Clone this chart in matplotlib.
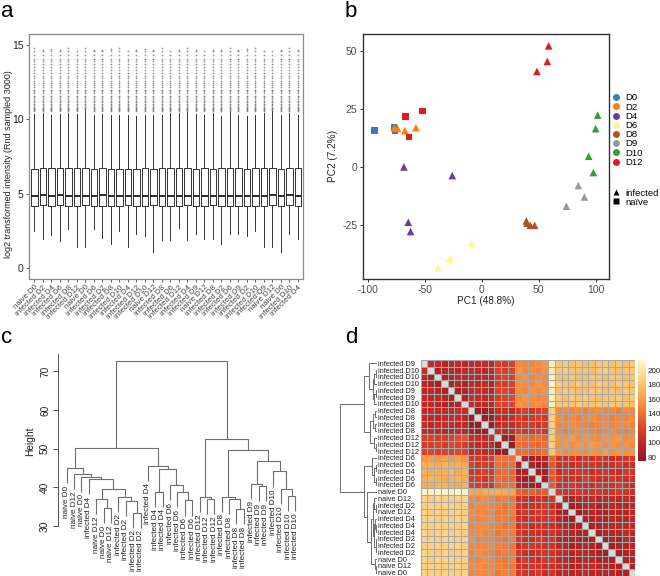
import numpy as np
import matplotlib
matplotlib.use("Agg")
import matplotlib.pyplot as plt
from matplotlib.colors import LinearSegmentedColormap
from matplotlib.lines import Line2D

plt.rcParams["font.family"] = ["Liberation Sans", "DejaVu Sans"]
plt.rcParams["axes.unicode_minus"] = False

# ---------------- panel a data ----------------
box_labels = ["naive D0", "infected D2", "infected D4", "infected D6", "infected D8", "infected D12",
              "naive D0", "infected D6", "infected D2", "infected D8", "infected D10", "infected D4",
              "infected D12", "infected D10", "naive D12", "infected D8", "infected D6", "infected D12",
              "infected D4", "infected D9", "naive D12", "infected D8", "infected D2", "infected D6",
              "infected D9", "infected D2", "infected D10", "infected D9", "naive D12", "naive D0",
              "infected D10", "infected D4"]
box_q1 = [4.2, 4.22, 4.2, 4.22, 4.18, 4.2, 4.22, 4.2, 4.2, 4.18, 4.2, 4.22, 4.2, 4.2, 4.22, 4.15,
          4.2, 4.2, 4.22, 4.18, 4.2, 4.22, 4.2, 4.2, 4.2, 4.15, 4.2, 4.2, 4.22, 4.2, 4.22, 4.2]
box_med = [4.85, 4.9, 4.85, 4.88, 4.85, 4.85, 4.87, 4.85, 4.88, 4.85, 4.85, 4.87, 4.85, 4.85, 4.83, 4.85,
           4.85, 4.87, 4.85, 4.83, 4.85, 4.87, 4.85, 4.87, 4.85, 4.83, 4.85, 4.87, 4.9, 4.82, 4.88, 4.85]
box_q3 = [6.65, 6.72, 6.7, 6.7, 6.72, 6.7, 6.75, 6.68, 6.7, 6.68, 6.66, 6.68, 6.66, 6.7, 6.66, 6.7,
          6.7, 6.73, 6.7, 6.68, 6.72, 6.66, 6.72, 6.7, 6.7, 6.66, 6.7, 6.7, 6.75, 6.68, 6.73, 6.7]
box_whislo = [2.5, 1.95, 2.2, 1.83, 2.6, 1.4, 1.4, 2.6, 2.0, 1.6, 2.5, 1.4, 2.3, 2.15, 1.1, 1.85,
              1.9, 2.7, 1.9, 2.25, 1.95, 1.95, 1.6, 2.3, 2.3, 2.15, 2.5, 1.4, 1.4, 1.1, 2.3, 1.95]
box_whishi = [10.35, 10.4, 10.3, 10.35, 10.45, 10.35, 10.55, 10.3, 10.35, 10.3, 10.3, 10.3, 10.25, 10.3,
              10.3, 10.3, 10.4, 10.45, 10.5, 10.35, 10.3, 10.45, 10.25, 10.5, 10.3, 10.25, 10.3, 10.4,
              10.55, 10.3, 10.45, 10.3]
flier_levels = [10.55, 10.62, 10.7, 10.78, 10.86, 10.95, 11.05, 11.15, 11.25, 11.4, 11.5, 11.6, 11.75,
                11.9, 12.0, 12.15, 12.3, 12.45, 12.6, 12.8, 12.95, 13.1, 13.3, 13.5, 13.7, 13.9, 14.1,
                14.35, 14.6]
flier_top = [14.8, 14.7, 14.75, 14.7, 14.8, 14.6, 14.8, 14.7, 14.7, 14.75, 14.8, 14.6, 14.7, 14.75, 14.7,
             14.8, 14.6, 14.7, 14.8, 14.7, 14.6, 14.7, 14.7, 14.8, 14.7, 14.75, 14.8, 14.6, 14.6, 14.7,
             14.8, 14.7]

# ---------------- panel b data ----------------
pca_day = ["D0", "D0", "D0", "D2", "D2", "D2", "D2", "D12", "D12", "D12", "D12", "D12", "D12",
           "D4", "D4", "D4", "D4", "D6", "D6", "D6", "D6", "D8", "D8", "D8", "D8",
           "D9", "D9", "D9", "D10", "D10", "D10", "D10"]
pca_status = ["naïve", "naïve", "naïve", "infected", "infected", "infected", "infected",
              "naïve", "naïve", "naïve", "infected", "infected", "infected",
              "infected", "infected", "infected", "infected", "infected", "infected", "infected",
              "infected", "infected", "infected", "infected", "infected", "infected", "infected",
              "infected", "infected", "infected", "infected", "infected"]
pc1 = [-93.6, -76.9, -76.0, -76.6, -73.7, -67.3, -57.6, -67.0, -51.5, -63.7, 58.8, 57.6, 48.5,
       -68.1, -25.7, -64.3, -62.3, -8.8, -27.2, -28.4, -38.3, 39.2, 39.8, 42.7, 46.5,
       84.8, 90.1, 74.3, 101.8, 100.0, 93.9, 98.0]
pc2 = [15.8, 17.2, 15.5, 16.8, 16.6, 15.6, 16.9, 21.6, 24.1, 12.9, 52.1, 45.4, 41.1,
       0.0, -3.7, -23.8, -27.8, -32.8, -39.3, -39.7, -43.4, -23.2, -24.2, -25.1, -25.1,
       -8.0, -12.9, -16.9, 22.3, 16.5, 4.6, -2.4]
day_levels = ["D0", "D2", "D4", "D6", "D8", "D9", "D10", "D12"]
day_colors = ["#377EB8", "#FF7F00", "#6A3D9A", "#FFF59A", "#A8552A", "#999999", "#33A02C", "#E31A1C"]
status_levels = ["infected", "naïve"]
status_markers = ["^", "s"]

# ---------------- panel c data ----------------
c_labels = ["naive D0", "naive D12", "naive D0", "infected D4", "naive D12", "naive D0", "naive D12",
            "infected D2", "infected D2", "infected D2", "infected D2", "infected D4", "infected D4",
            "infected D4", "infected D6", "infected D6", "infected D6", "infected D6", "infected D12",
            "infected D12", "infected D12", "infected D8", "infected D8", "infected D8", "infected D8",
            "infected D9", "infected D9", "infected D9", "infected D10", "infected D10", "infected D10",
            "infected D10"]
# merges: negative = leaf (1-based), positive = earlier merge (1-based)
c_merges = [(-10, -11), (-6, -7), (-24, -25), (-9, 1), (-17, -18), (-5, 2), (-20, -21), (-23, 3),
            (-8, 4), (-19, 7), (-22, 8), (-31, -32), (-16, 5), (-13, -14), (6, 9), (-30, 12),
            (-27, -28), (-15, 13), (-26, 17), (-4, 15), (-3, 20), (-2, 21), (-29, 16), (14, 18),
            (-1, 22), (-12, 24), (19, 23), (11, 27), (25, 26), (10, 28), (29, 30)]
c_heights = [33.4, 34.6, 34.4, 36.4, 36.6, 36.9, 36.9, 36.9, 37.6, 37.6, 37.6, 37.7, 38.7, 38.9,
             39.5, 39.5, 40.3, 40.5, 40.9, 42.1, 42.8, 43.5, 44.1, 44.7, 44.9, 45.6, 46.7, 49.6,
             50.1, 52.5, 72.7]
c_hang = 3.9

# ---------------- panel d data ----------------
d_labels = ["infected D9", "infected D10", "infected D10", "infected D10", "infected D9", "infected D9",
            "infected D10", "infected D8", "infected D8", "infected D8", "infected D8", "infected D12",
            "infected D12", "infected D12", "infected D6", "infected D6", "infected D4", "infected D6",
            "infected D6", "naive D0", "naive D12", "infected D2", "naive D12", "infected D4",
            "infected D4", "infected D4", "infected D2", "infected D2", "infected D2", "naive D0",
            "naive D12", "naive D0"]
d_merges = [(-2, -3), (-5, -6), (1, -4), (2, -7), (3, 4), (-1, 5), (-8, -9), (-10, -11), (7, 8),
            (-13, -14), (-12, 10), (9, 11), (6, 12), (-16, -17), (-18, -19), (14, 15), (-15, 16),
            (-22, -23), (-21, 18), (-25, -26), (-24, 20), (-27, -28), (22, -29), (-31, -32), (-30, 24),
            (21, 23), (19, 26), (27, 25), (-20, 28), (17, 29), (13, 30)]
d_heights = [4, 4, 7, 8, 12, 22, 5, 5, 10, 4, 8, 20, 36, 4, 3, 7, 14, 4, 7, 3, 5, 2, 4, 4, 6, 9, 12,
             15, 28, 36, 100]
N = np.nan
dist_rows = [
    [N, 104, 100, 96, 98, 102, 100, 100, 102, 104, 100, 116, 114, 118, 152, 150, 148, 152, 156, 208, 180, 182, 178, 180, 176, 178, 180, 182, 178, 180, 176, 182],
    [106, N, 92, 96, 100, 98, 102, 104, 100, 98, 102, 118, 116, 120, 156, 150, 152, 150, 154, 206, 182, 184, 180, 178, 180, 176, 182, 184, 180, 178, 180, 184],
    [98, 90, N, 92, 96, 100, 98, 100, 98, 102, 100, 114, 118, 116, 150, 154, 148, 152, 150, 208, 180, 178, 182, 176, 178, 180, 180, 176, 182, 180, 178, 180],
    [96, 94, 90, N, 94, 96, 92, 102, 100, 104, 98, 116, 114, 118, 154, 152, 150, 156, 152, 210, 184, 180, 178, 182, 180, 176, 184, 180, 178, 182, 180, 178],
    [98, 100, 96, 92, N, 90, 94, 100, 104, 102, 98, 118, 120, 116, 152, 150, 154, 150, 156, 206, 178, 182, 180, 176, 178, 182, 180, 178, 180, 176, 182, 180],
    [102, 98, 100, 96, 90, N, 92, 106, 102, 100, 104, 114, 118, 120, 150, 156, 152, 148, 152, 208, 180, 176, 182, 180, 184, 178, 176, 182, 180, 184, 178, 182],
    [100, 102, 98, 94, 94, 92, N, 104, 100, 102, 100, 120, 116, 118, 156, 152, 150, 154, 150, 210, 182, 180, 178, 184, 180, 180, 182, 178, 184, 180, 180, 178],
    [102, 104, 100, 102, 100, 106, 104, N, 84, 86, 90, 104, 106, 100, 112, 116, 110, 114, 118, 186, 150, 152, 148, 150, 146, 150, 152, 148, 150, 146, 152, 150],
    [102, 100, 98, 100, 104, 102, 100, 84, N, 82, 86, 102, 100, 106, 114, 110, 112, 116, 112, 184, 152, 148, 150, 146, 150, 152, 148, 150, 146, 150, 148, 152],
    [104, 98, 102, 104, 102, 100, 102, 86, 82, N, 84, 100, 104, 102, 110, 114, 116, 110, 114, 186, 148, 150, 152, 150, 148, 146, 150, 152, 148, 150, 150, 146],
    [100, 102, 100, 98, 98, 104, 100, 90, 86, 84, N, 106, 102, 104, 116, 112, 114, 118, 110, 184, 150, 146, 150, 152, 150, 148, 146, 150, 152, 148, 146, 150],
    [116, 118, 114, 116, 118, 124, 126, 104, 102, 100, 106, N, 86, 84, 142, 138, 136, 140, 134, 184, 156, 154, 158, 152, 156, 154, 152, 156, 154, 158, 152, 154],
    [114, 116, 118, 114, 120, 118, 116, 106, 100, 104, 102, 86, N, 82, 140, 136, 138, 134, 138, 186, 154, 156, 152, 156, 154, 158, 156, 152, 156, 154, 156, 152],
    [118, 120, 116, 118, 116, 120, 118, 100, 106, 102, 104, 84, 82, N, 138, 140, 134, 136, 140, 184, 158, 152, 154, 154, 152, 156, 154, 158, 152, 156, 154, 156],
    [158, 160, 156, 162, 158, 160, 156, 112, 114, 110, 116, 142, 140, 138, N, 90, 88, 92, 94, 132, 110, 108, 112, 106, 110, 108, 112, 110, 106, 108, 110, 112],
    [168, 170, 166, 172, 168, 170, 166, 116, 110, 114, 112, 138, 136, 140, 90, N, 92, 86, 90, 128, 108, 110, 106, 110, 108, 112, 108, 106, 110, 112, 108, 106],
    [170, 166, 168, 170, 172, 168, 170, 110, 112, 116, 114, 136, 138, 134, 88, 92, N, 90, 88, 130, 106, 112, 108, 112, 110, 106, 110, 112, 108, 106, 112, 110],
    [168, 172, 170, 166, 170, 172, 168, 114, 116, 110, 118, 140, 134, 136, 92, 86, 90, N, 86, 128, 112, 106, 110, 108, 112, 110, 106, 108, 112, 110, 106, 108],
    [166, 168, 172, 170, 168, 166, 170, 118, 112, 114, 110, 134, 138, 140, 94, 90, 88, 86, N, 130, 108, 110, 112, 110, 106, 108, 112, 110, 108, 112, 110, 106],
    [212, 210, 214, 212, 210, 212, 214, 166, 164, 168, 166, 168, 166, 164, 132, 128, 130, 128, 130, N, 112, 108, 110, 112, 108, 110, 112, 108, 110, 112, 110, 108],
    [188, 186, 190, 188, 186, 188, 190, 150, 148, 152, 150, 144, 146, 142, 108, 110, 106, 110, 108, 112, N, 96, 94, 98, 100, 102, 98, 100, 104, 100, 102, 98],
    [186, 188, 186, 190, 188, 186, 188, 148, 152, 150, 148, 146, 142, 144, 110, 106, 110, 108, 112, 108, 96, N, 88, 90, 96, 98, 94, 96, 100, 98, 96, 100],
    [190, 186, 188, 186, 190, 188, 186, 152, 150, 148, 150, 142, 144, 146, 106, 110, 108, 112, 110, 110, 94, 88, N, 86, 94, 96, 92, 90, 98, 96, 94, 98],
    [188, 190, 186, 188, 186, 190, 188, 150, 148, 150, 152, 144, 146, 142, 110, 108, 112, 106, 110, 112, 98, 90, 86, N, 92, 94, 96, 94, 100, 98, 96, 100],
    [186, 188, 190, 186, 188, 186, 190, 148, 150, 152, 148, 146, 142, 144, 108, 112, 106, 110, 108, 108, 100, 96, 94, 92, N, 90, 92, 96, 98, 100, 98, 102],
    [190, 186, 188, 190, 186, 188, 186, 150, 152, 148, 150, 142, 146, 144, 112, 108, 110, 108, 106, 110, 102, 98, 96, 94, 90, N, 90, 94, 96, 98, 100, 98],
    [188, 188, 186, 188, 190, 186, 188, 152, 148, 150, 150, 144, 142, 146, 110, 106, 108, 112, 110, 112, 98, 94, 92, 96, 92, 90, N, 88, 92, 94, 96, 98],
    [186, 190, 188, 186, 188, 190, 186, 150, 150, 148, 152, 146, 144, 142, 106, 110, 112, 110, 108, 108, 100, 96, 90, 94, 96, 94, 88, N, 86, 92, 94, 96],
    [190, 188, 186, 190, 186, 188, 190, 148, 152, 150, 148, 142, 146, 144, 112, 108, 106, 108, 110, 110, 104, 100, 98, 100, 98, 96, 92, 86, N, 90, 94, 96],
    [188, 186, 190, 188, 190, 186, 188, 150, 148, 152, 150, 144, 142, 146, 108, 112, 110, 106, 112, 112, 100, 98, 96, 98, 100, 98, 94, 92, 90, N, 92, 94],
    [186, 190, 188, 186, 188, 190, 186, 152, 150, 148, 150, 146, 144, 142, 110, 108, 112, 110, 108, 108, 102, 96, 94, 96, 98, 100, 96, 94, 94, 92, N, 90],
    [190, 188, 186, 190, 186, 188, 190, 148, 150, 150, 152, 142, 146, 144, 112, 110, 108, 112, 106, 110, 98, 100, 98, 100, 102, 98, 98, 96, 96, 94, 90, N],
]
hm_colors = ["#8A1A1E", "#AE2124", "#CB2D26", "#E0482A", "#EE6A31", "#F58D40", "#F9AD55",
             "#FCC977", "#FEE2A0", "#FFF5CC"]
hm_vmin, hm_vmax = 75, 214
hm_ticks = [80, 100, 120, 140, 160, 180, 200]

# ---------------- layout helpers ----------------
W, H = 660, 576


def rect(l, t, r, b):
    return [l / W, 1 - b / H, (r - l) / W, (b - t) / H]


def dendro_segments(merges, heights, leaf_pos, leaf_height):
    nodes = {}
    segs = []
    for j, ((a, b), h) in enumerate(zip(merges, heights), start=1):
        pts = []
        for ch in (a, b):
            if ch < 0:
                pts.append((leaf_pos[-ch - 1], leaf_height(h)))
            else:
                pts.append(nodes[ch])
        (x1, y1), (x2, y2) = pts
        segs.append(([x1, x1, x2, x2], [y1, h, h, y2]))
        nodes[j] = ((x1 + x2) / 2.0, h)
    return segs


fig = plt.figure(figsize=(6.6, 5.76), dpi=100)
txt = "#222222"

# ================= panel a =================
axa = fig.add_axes(rect(29.3, 34, 303, 279))
stats = []
for i in range(len(box_labels)):
    fl = [v for v in flier_levels if box_whishi[i] < v < flier_top[i]] + [flier_top[i]]
    stats.append(dict(med=box_med[i], q1=box_q1[i], q3=box_q3[i], whislo=box_whislo[i],
                      whishi=box_whishi[i], fliers=fl))
pos = np.arange(1, len(box_labels) + 1)
axa.bxp(stats, positions=pos, widths=0.75, showcaps=False, patch_artist=False,
        boxprops=dict(color="#333333", lw=0.7),
        whiskerprops=dict(color="#333333", lw=0.7),
        medianprops=dict(color="#1a1a1a", lw=1.3),
        flierprops=dict(marker="o", ms=1.3, mfc="#444444", mec="none", alpha=0.55))
axa.set_xlim(0.4, len(box_labels) + 0.6)
axa.set_ylim(-0.75, 15.75)
axa.set_yticks([0, 5, 10, 15])
axa.set_xticks(pos)
axa.set_xticklabels(box_labels, rotation=45, ha="right", rotation_mode="anchor", fontsize=5.7, color=txt)
axa.tick_params(axis="y", labelsize=7.5, length=2.5, width=0.6, pad=1.5, colors="#444444", labelcolor=txt)
axa.tick_params(axis="x", length=2.5, width=0.6, pad=1, colors="#444444")
for s in axa.spines.values():
    s.set_color("#8a8a8a")
    s.set_linewidth(0.9)
axa.set_ylabel("log2 transformed intensity (Rnd sampled 3000)", fontsize=6.5, color=txt)
axa.yaxis.set_label_coords(-0.06, 0.47)

# ================= panel b =================
axb = fig.add_axes(rect(363, 34, 609, 279))
for i in range(len(pc1)):
    c = day_colors[day_levels.index(pca_day[i])]
    m = status_markers[status_levels.index(pca_status[i])]
    axb.scatter(pc1[i], pc2[i], marker=m, s=30 if m == "^" else 24, color=c, edgecolors="none", zorder=3)
axb.set_xlim(-104, 111.7)
axb.set_ylim(-48.2, 57.2)
axb.set_xticks([-100, -50, 0, 50, 100])
axb.set_yticks([-25, 0, 25, 50])
axb.tick_params(labelsize=7.5, length=2.5, width=0.7, pad=1.5, colors="#333333", labelcolor="#4d4d4d")
for s in axb.spines.values():
    s.set_color("#333333")
    s.set_linewidth(1.0)
axb.set_xlabel("PC1 (48.8%)", fontsize=7.2, color=txt)
axb.set_ylabel("PC2 (7.2%)", fontsize=7.2, color=txt)
axb.xaxis.set_label_coords(0.5, -0.068)
axb.yaxis.set_label_coords(-0.102, 0.5)

h1 = [Line2D([], [], ls="", marker="o", ms=5, mfc=c, mec="none") for c in day_colors]
leg1 = fig.legend(h1, day_levels, loc="upper left", bbox_to_anchor=(611.5 / W, 1 - 93.5 / H),
                  frameon=False, fontsize=6.8, handlelength=1.0, handletextpad=0.5,
                  labelspacing=0.02, borderpad=0, borderaxespad=0)
h2 = [Line2D([], [], ls="", marker=m, ms=4.8, mfc="black", mec="none") for m in status_markers]
leg2 = fig.legend(h2, status_levels, loc="upper left", bbox_to_anchor=(611.5 / W, 1 - 188.5 / H),
                  frameon=False, fontsize=6.8, handlelength=1.0, handletextpad=0.5,
                  labelspacing=0.02, borderpad=0, borderaxespad=0)

# ================= panel c =================
c_top_px, c_bot_px = 351.96, 541.5
axc = fig.add_axes(rect(57.7, c_top_px, 300, c_bot_px))
leaf_x = np.arange(len(c_labels))
segs = dendro_segments(c_merges, c_heights, leaf_x, lambda h: h - c_hang)
for xs, ys in segs:
    axc.plot(xs, ys, color="#6e6e6e", lw=0.8, solid_capstyle="butt")
leaf_end = {}
for (a, b), h in zip(c_merges, c_heights):
    for ch in (a, b):
        if ch < 0:
            leaf_end[-ch - 1] = h - c_hang
for i, lab in enumerate(c_labels):
    axc.text(leaf_x[i], leaf_end[i] - 0.6, lab, rotation=90, ha="center", va="top",
             fontsize=5.9, color=txt, clip_on=False)
axc.set_xlim(-1.22, 31.61)
axc.set_ylim(26, 75)
axc.set_xticks([])
axc.set_yticks([30, 40, 50, 60, 70])
axc.set_yticklabels(["30", "40", "50", "60", "70"], rotation=90, va="center", fontsize=7.3, color=txt)
axc.tick_params(axis="y", length=3.5, width=0.7, pad=2, colors="#555555", labelcolor=txt)
for k in ("top", "right", "bottom"):
    axc.spines[k].set_visible(False)
axc.spines["left"].set_bounds(30, 74.5)
axc.spines["left"].set_color("#555555")
axc.spines["left"].set_linewidth(0.7)
axc.patch.set_alpha(0)
fig.text(30 / W, 1 - 441.7 / H, "Height", rotation=90, ha="center", va="center", fontsize=7.3, color=txt)

# ================= panel d =================
axh = fig.add_axes(rect(420.7, 360, 635.3, 576))
mat = np.ma.masked_invalid(np.array(dist_rows, dtype=float))
cmap = LinearSegmentedColormap.from_list("dist", hm_colors)
cmap.set_bad("#D9D9D9")
n = len(d_labels)
mesh = axh.pcolormesh(np.arange(n + 1), np.arange(n + 1), mat, cmap=cmap, vmin=hm_vmin, vmax=hm_vmax,
                      edgecolors="#A8A8A8", linewidth=0.5)
axh.set_xlim(0, n)
axh.set_ylim(n, 0)
axh.set_xticks([])
axh.set_yticks(np.arange(n) + 0.5)
axh.set_yticklabels(d_labels, fontsize=5.3, color=txt)
axh.tick_params(axis="y", length=0, pad=31)
for t in axh.get_yticklabels():
    t.set_ha("left")
for s in axh.spines.values():
    s.set_visible(False)

cax = fig.add_axes(rect(637.5, 360, 645.5, 460.7))
cb = fig.colorbar(mesh, cax=cax, ticks=hm_ticks)
cb.outline.set_visible(False)
cax.tick_params(length=0, labelsize=5.8, pad=1.2, labelcolor=txt)

axd = fig.add_axes(rect(338, 360, 377, 576))
dsegs = dendro_segments(d_merges, d_heights, np.arange(n) + 0.5, lambda h: 0.0)
for ys, xs in dsegs:
    axd.plot(xs, ys, color="#6e6e6e", lw=0.7, solid_capstyle="butt")
axd.set_xlim(105, 0)
axd.set_ylim(n, 0)
axd.axis("off")

# ================= panel letters =================
for lab, x, y in [("a", 1, 17), ("b", 345, 17), ("c", 1, 343), ("d", 345, 343)]:
    fig.text(x / W, 1 - y / H, lab, fontsize=16, color="black", ha="left", va="baseline")

fig.savefig("out.png", dpi=100)
